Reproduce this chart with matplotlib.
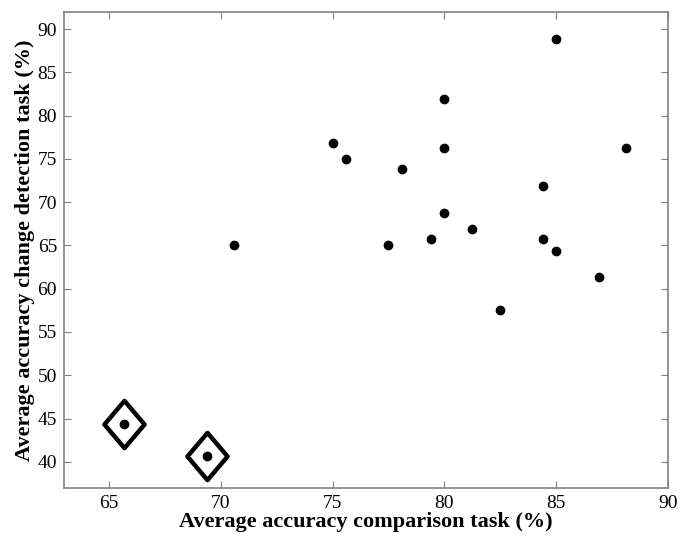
import matplotlib
matplotlib.use('Agg')
import matplotlib.pyplot as plt
from matplotlib.path import Path

plt.rcParams['font.family'] = ['Liberation Serif', 'DejaVu Serif']

# participants: comparison task accuracy vs change detection accuracy
comparison = [70.6, 75.0, 75.6, 78.1, 77.5, 79.4, 80.0, 80.0, 80.0, 81.25,
              82.5, 84.4, 84.4, 85.0, 85.0, 86.9, 88.1, 65.7, 69.4]
change_det = [65.0, 76.8, 75.0, 73.8, 65.0, 65.7, 81.9, 76.3, 68.8, 66.9,
              57.5, 71.9, 65.7, 88.8, 64.4, 61.3, 76.3, 44.4, 40.7]

# outliers marked with a diamond
outlier_x = [65.7, 69.4]
outlier_y = [44.4, 40.7]

diamond = Path([(0, 1), (0.85, 0), (0, -1), (-0.85, 0), (0, 1)],
               [Path.MOVETO, Path.LINETO, Path.LINETO, Path.LINETO, Path.CLOSEPOLY])

fig = plt.figure(figsize=(6.92, 5.36), dpi=100)
ax = fig.add_axes([0.0925, 0.09, 0.873, 0.888])

ax.plot(comparison, change_det, 'ko', markersize=6, linestyle='none')
ax.plot(outlier_x, outlier_y, linestyle='none', marker=diamond, markersize=34,
        markerfacecolor='none', markeredgecolor='k', markeredgewidth=3.2)

ax.set_xlim(63, 90)
ax.set_ylim(37, 92)
ax.set_xticks([65, 70, 75, 80, 85, 90])
ax.set_yticks([40, 45, 50, 55, 60, 65, 70, 75, 80, 85, 90])
ax.tick_params(direction='in', top=True, right=True, labelsize=14, length=5,
               color='#808080', pad=5)
for s in ax.spines.values():
    s.set_color('#808080')
    s.set_linewidth(1.2)

ax.set_xlabel('Average accuracy comparison task (%)', fontsize=16,
              fontweight='bold', labelpad=0)
ax.set_ylabel('Average accuracy change detection task (%)', fontsize=16,
              fontweight='bold', labelpad=2)

plt.savefig('out.png', dpi=100)
plt.close()
